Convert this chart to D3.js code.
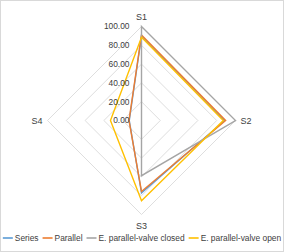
<!DOCTYPE html>
<html>
<head>
<meta charset="utf-8">
<script src="https://cdn.jsdelivr.net/npm/d3@7"></script>
<style>
  html, body { margin: 0; padding: 0; background: #fff; }
  svg { display: block; font-family: "Liberation Sans", Arial, sans-serif; }
</style>
</head>
<body>
<div id="chart"></div>
<script>
// chart data
var axes = ["S1", "S2", "S3", "S4"];
var ticks = [0, 20, 40, 60, 80, 100];
var seriesNames = ["Series", "Parallel", "E. parallel-valve closed", "E. parallel-valve open"];
var seriesColors = ["#5B9BD5", "#ED7D31", "#A5A5A5", "#FFC000"];
var seriesVals = [90, 88.5, 77, 13];
var parallelVals = [91, 89.5, 75.5, 13.3];
var closedVals = [100, 100, 58.7, 0];
var openVals = [88.5, 87, 85.3, 33];

var W = 284, H = 252;
var cx = 141.5, cy = 120.5, R = 94;

var svg = d3.select("#chart").append("svg")
  .attr("width", W)
  .attr("height", H);

svg.append("rect")
  .attr("x", 0.5).attr("y", 0.5)
  .attr("width", W - 1).attr("height", H - 1)
  .attr("fill", "#fff")
  .attr("stroke", "#D9D9D9");

var r = d3.scaleLinear().domain([0, 100]).range([0, R]);
var angle = d3.scalePoint().domain(axes.concat(["_end"])).range([0, 2 * Math.PI]);

var radial = d3.lineRadial()
  .angle(function (d, i) { return angle(axes[i]); })
  .radius(function (d) { return r(d); })
  .curve(d3.curveLinearClosed);

var g = svg.append("g").attr("transform", "translate(" + cx + "," + cy + ")");

// grid rings
g.selectAll("path.ring")
  .data(ticks.slice(1))
  .enter().append("path")
  .attr("class", "ring")
  .attr("d", function (t) { return radial(axes.map(function () { return t; })); })
  .attr("fill", "none")
  .attr("stroke", "#DEDEDE")
  .attr("stroke-width", 1);

// series
var allSeries = [seriesVals, parallelVals, closedVals, openVals];
g.selectAll("path.series")
  .data(allSeries)
  .enter().append("path")
  .attr("class", "series")
  .attr("d", radial)
  .attr("fill", "none")
  .attr("stroke", function (d, i) { return seriesColors[i]; })
  .attr("stroke-width", 1.4)
  .attr("stroke-linejoin", "miter");

// tick labels
g.selectAll("text.tick")
  .data(ticks)
  .enter().append("text")
  .attr("class", "tick")
  .attr("x", -12)
  .attr("y", function (t) { return -r(t); })
  .attr("dy", "0.35em")
  .attr("text-anchor", "end")
  .attr("font-size", 8.4)
  .attr("fill", "#404040")
  .text(function (t) { return t.toFixed(2); });

// axis labels
var labelPos = {
  S1: { x: 0, y: -R - 10, anchor: "middle" },
  S2: { x: R + 5, y: 0, anchor: "start" },
  S3: { x: 0, y: R + 11, anchor: "middle" },
  S4: { x: -R - 5, y: 0, anchor: "end" }
};
g.selectAll("text.cat")
  .data(axes)
  .enter().append("text")
  .attr("class", "cat")
  .attr("x", function (a) { return labelPos[a].x; })
  .attr("y", function (a) { return labelPos[a].y; })
  .attr("dy", "0.35em")
  .attr("text-anchor", function (a) { return labelPos[a].anchor; })
  .attr("font-size", 9)
  .attr("fill", "#404040")
  .text(function (a) { return a; });

// legend
var legend = svg.append("g");
var lx = 0, ly = 238;
seriesNames.forEach(function (name, i) {
  var item = legend.append("g").attr("transform", "translate(" + lx + ",0)");
  item.append("line")
    .attr("x1", 0).attr("x2", 10)
    .attr("y1", ly).attr("y2", ly)
    .attr("stroke", seriesColors[i])
    .attr("stroke-width", 1.6);
  var t = item.append("text")
    .attr("x", 12).attr("y", ly)
    .attr("dy", "0.35em")
    .attr("font-size", 8.4)
    .attr("fill", "#404040")
    .text(name);
  lx += 12 + t.node().getComputedTextLength() + 4;
});
lx -= 4;
legend.attr("transform", "translate(" + ((W - lx) / 2) + ",0)");
</script>
</body>
</html>
